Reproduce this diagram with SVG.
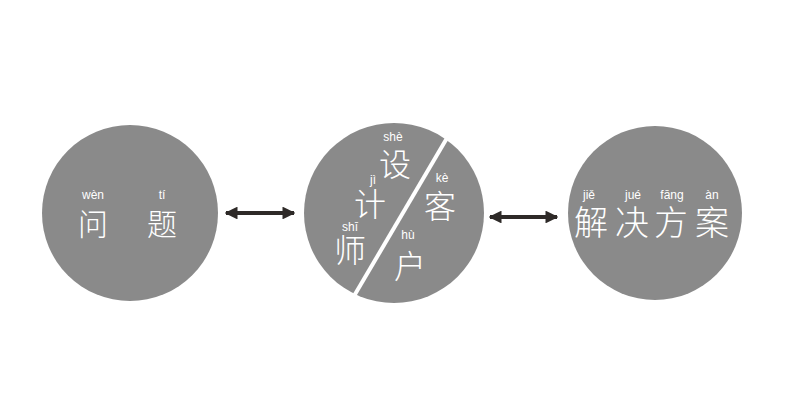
<svg xmlns="http://www.w3.org/2000/svg" width="800" height="400" viewBox="0 0 800 400">
<style>
.c{fill:#8a8a8a}
.h{font-family:"Noto Sans CJK SC","Noto Sans CJK TC",sans-serif;fill:#fff;text-anchor:middle;font-weight:300}
.p{font-family:"Liberation Sans",Arial,sans-serif;fill:#fff;text-anchor:middle;font-size:12px}
.a{stroke:#2e2a28;stroke-width:4}
</style>
<defs>
<marker id="ah" viewBox="0 0 10 10" refX="9" refY="5" markerWidth="3.2" markerHeight="3.2" orient="auto-start-reverse" markerUnits="strokeWidth">
<path d="M0,0 L10,5 L0,10 z" fill="#2e2a28"/>
</marker>
</defs>
<rect width="800" height="400" fill="#fff"/>
<g id="wenti">
<circle class="c" cx="130" cy="213" r="88"/>
<text class="p" x="93" y="199">wèn</text>
<text class="p" x="162" y="199">tí</text>
<text class="h" x="93" y="235" font-size="30">问</text>
<text class="h" x="162" y="235" font-size="30">题</text>
</g>
<g id="shejishi-kehu">
<circle class="c" cx="394" cy="213" r="90"/>
<line x1="447" y1="138" x2="354" y2="296" stroke="#fff" stroke-width="4"/>
<text class="p" x="393" y="141">shè</text>
<text class="h" x="395" y="176" font-size="32">设</text>
<text class="p" x="373" y="184">jì</text>
<text class="h" x="370" y="216" font-size="32">计</text>
<text class="p" x="350" y="231">shī</text>
<text class="h" x="350" y="262" font-size="32">师</text>
<text class="p" x="442" y="182">kè</text>
<text class="h" x="440" y="218" font-size="32">客</text>
<text class="p" x="408" y="239">hù</text>
<text class="h" x="410" y="278" font-size="32">户</text>
</g>
<g id="jiejuefangan">
<circle class="c" cx="655" cy="213" r="87"/>
<text class="p" x="589" y="199">jiě</text>
<text class="p" x="633" y="199">jué</text>
<text class="p" x="672" y="199">fāng</text>
<text class="p" x="712" y="199">àn</text>
<text class="h" x="591" y="235" font-size="34">解</text>
<text class="h" x="632" y="235" font-size="34">决</text>
<text class="h" x="671" y="235" font-size="34">方</text>
<text class="h" x="712" y="235" font-size="34">案</text>
</g>
<g id="connectors">
<line class="a" x1="226" y1="213" x2="294" y2="213" marker-start="url(#ah)" marker-end="url(#ah)"/>
<line class="a" x1="490" y1="217" x2="557" y2="217" marker-start="url(#ah)" marker-end="url(#ah)"/>
</g>
</svg>
